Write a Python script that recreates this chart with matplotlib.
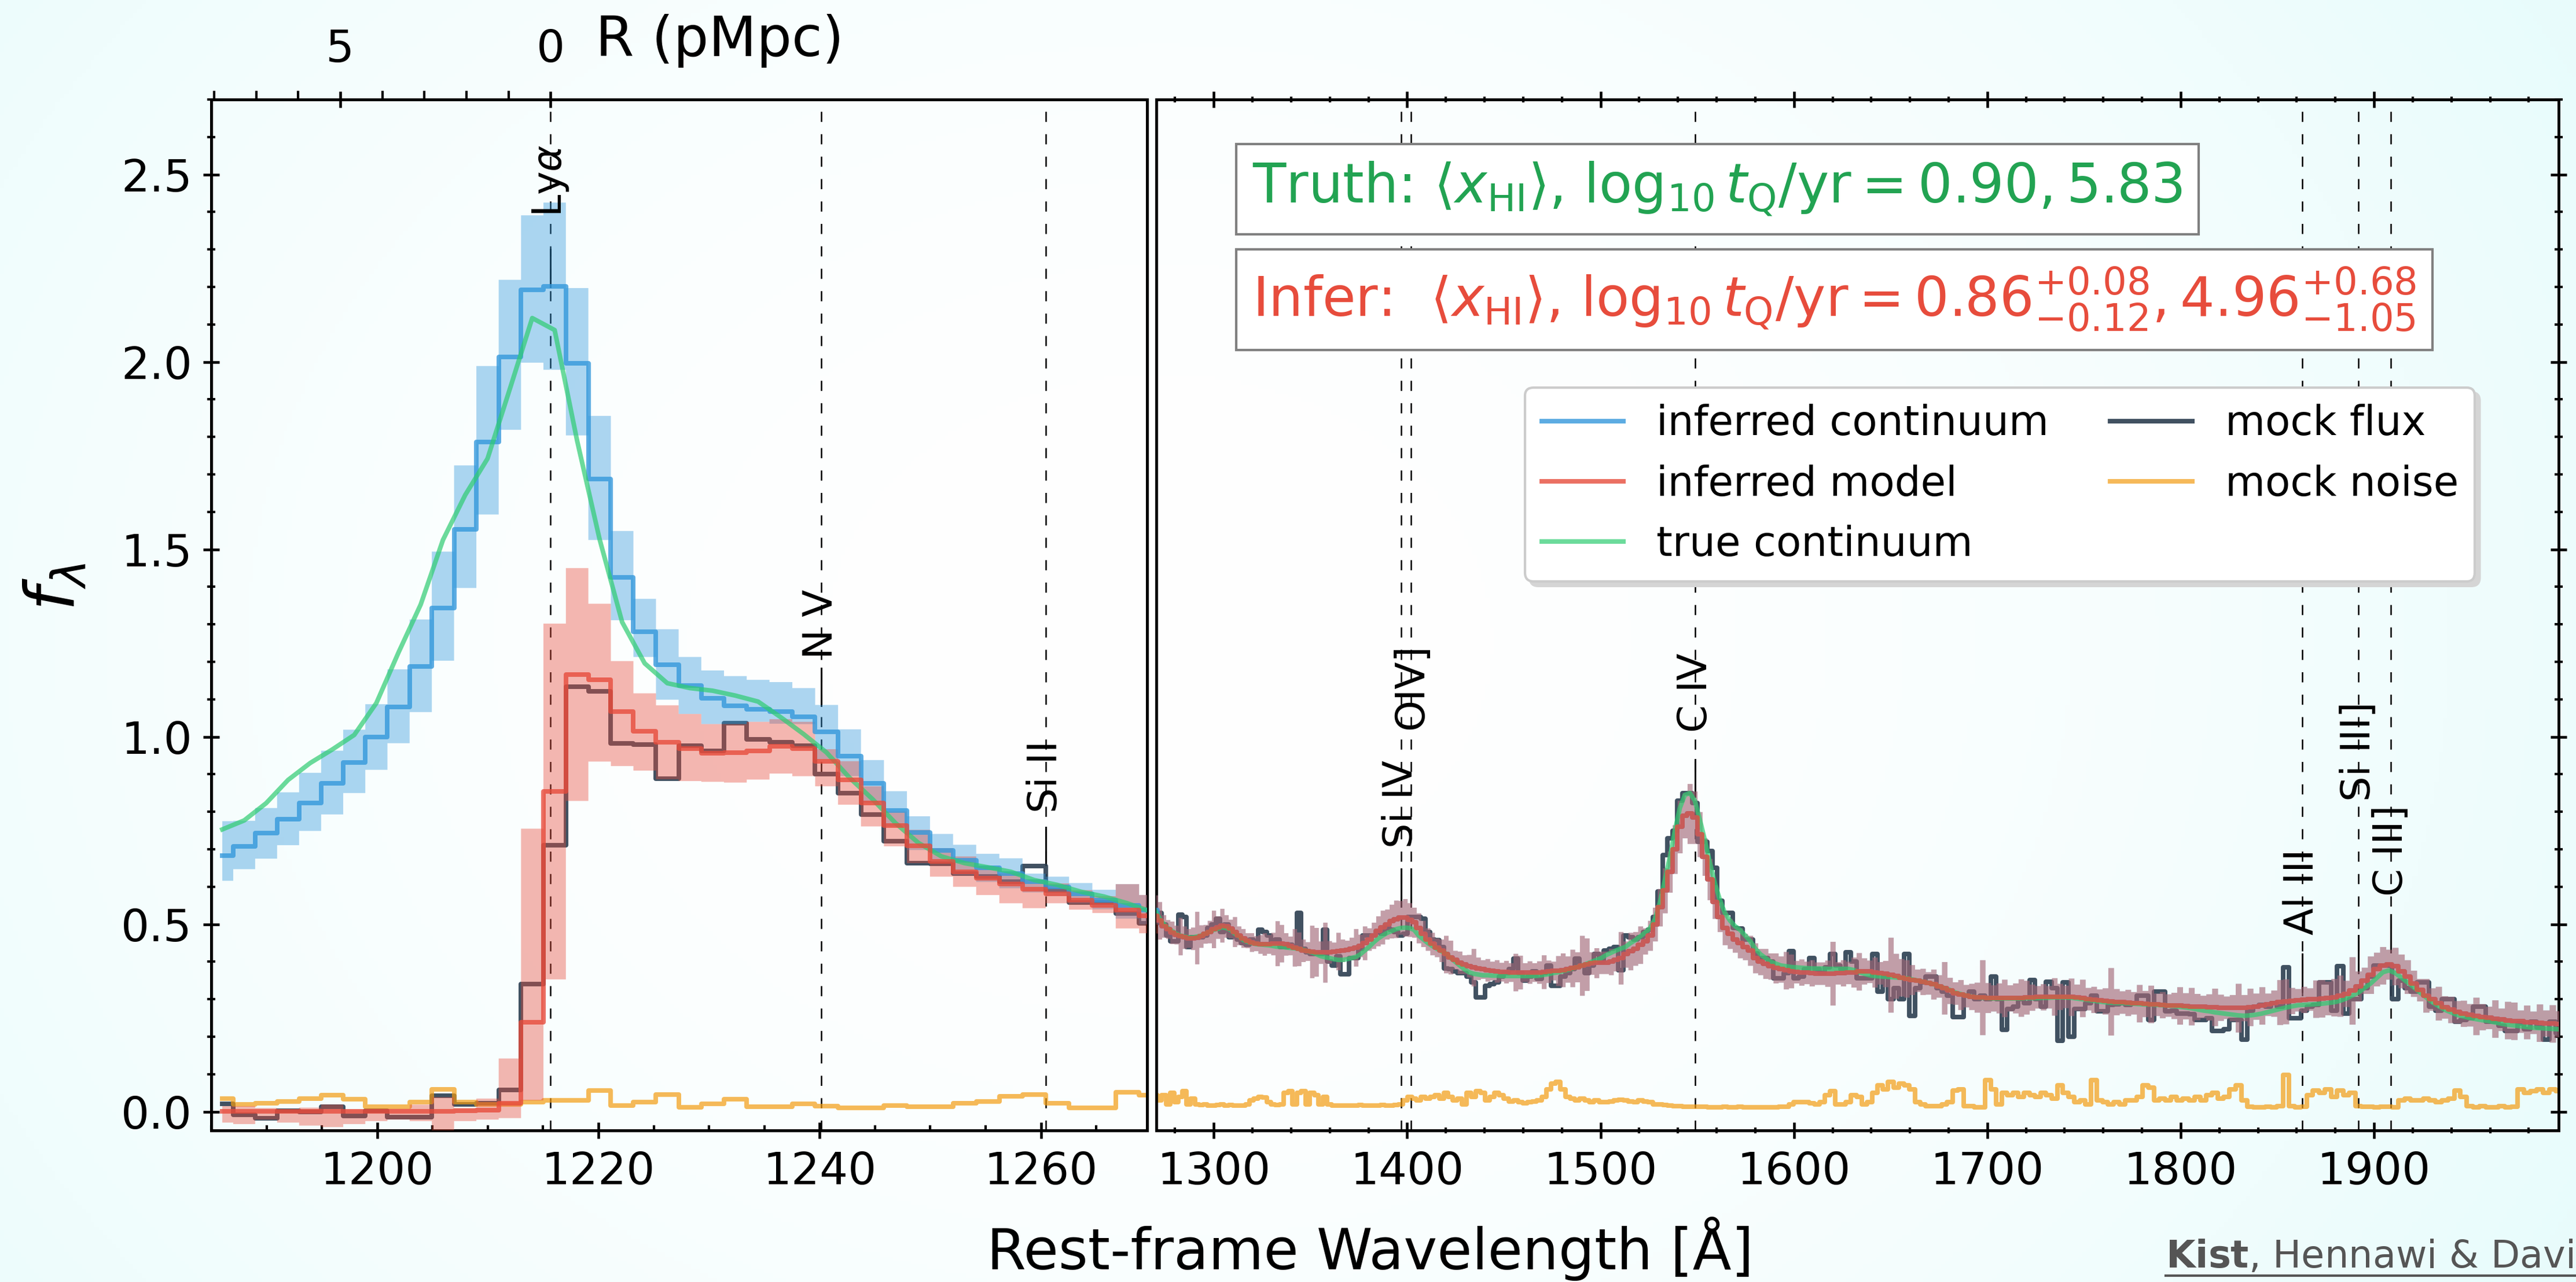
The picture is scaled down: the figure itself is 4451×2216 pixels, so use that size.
import numpy as np
import matplotlib.pyplot as plt
from matplotlib.lines import Line2D
from matplotlib.ticker import MultipleLocator, FixedLocator

# ---------------- data ----------------
lam_first = 1186.0       # centre of first pixel [A]
dv_pix = 500.0           # pixel width [km/s]
c_kms = 299792.458
lya = 1215.67
ang_per_pmpc = 3.8       # top axis conversion near Ly-alpha

# blue side of the spectrum (1186 - 1270 A)
flux_lya = [0.021, -0.009, -0.017, 0.003, -0.001, 0.013, -0.011, 0.003, -0.014, -0.014,
            0.043, 0.020, 0.023, 0.058, 0.341, 0.711, 1.134, 1.121, 0.983, 0.980,
            0.888, 0.976, 0.962, 1.036, 0.994, 0.985, 0.976, 0.900, 0.849, 0.792,
            0.721, 0.663, 0.661, 0.636, 0.627, 0.614, 0.656, 0.591, 0.558, 0.558,
            0.529, 0.502]
noise_lya = [0.035, 0.020, 0.023, 0.028, 0.035, 0.044, 0.033, 0.014, 0.014, 0.025,
             0.060, 0.025, 0.019, 0.020, 0.026, 0.030, 0.030, 0.057, 0.017, 0.025,
             0.046, 0.012, 0.021, 0.033, 0.013, 0.013, 0.021, 0.015, 0.010, 0.010,
             0.017, 0.013, 0.013, 0.023, 0.028, 0.041, 0.046, 0.023, 0.010, 0.010,
             0.052, 0.044]
true_lya = [0.753, 0.777, 0.823, 0.885, 0.930, 0.966, 1.005, 1.090, 1.225, 1.353,
            1.525, 1.645, 1.742, 1.928, 2.117, 2.085, 1.790, 1.527, 1.306, 1.196,
            1.143, 1.130, 1.123, 1.110, 1.094, 1.052, 1.007, 0.958, 0.891, 0.834,
            0.770, 0.717, 0.681, 0.663, 0.652, 0.640, 0.618, 0.605, 0.587, 0.574,
            0.556, 0.534]
cont_lya = [0.683, 0.708, 0.743, 0.781, 0.824, 0.876, 0.932, 0.999, 1.079, 1.187,
            1.344, 1.554, 1.786, 2.014, 2.193, 2.202, 1.997, 1.688, 1.426, 1.280,
            1.193, 1.137, 1.103, 1.083, 1.074, 1.067, 1.054, 1.013, 0.949, 0.876,
            0.804, 0.745, 0.697, 0.670, 0.650, 0.636, 0.614, 0.600, 0.582, 0.565,
            0.551, 0.538]
cont_hi_lya = [0.775, 0.776, 0.810, 0.852, 0.904, 0.963, 1.019, 1.087, 1.180, 1.313,
               1.494, 1.724, 1.989, 2.219, 2.391, 2.425, 2.197, 1.856, 1.549, 1.368,
               1.287, 1.213, 1.177, 1.162, 1.152, 1.146, 1.130, 1.085, 1.020, 0.938,
               0.855, 0.788, 0.741, 0.712, 0.688, 0.676, 0.635, 0.627, 0.610, 0.592,
               0.607, 0.578]
cont_lo_lya = [0.616, 0.647, 0.675, 0.711, 0.749, 0.793, 0.850, 0.912, 0.983, 1.066,
               1.203, 1.397, 1.593, 1.819, 1.998, 1.979, 1.804, 1.525, 1.311, 1.213,
               1.099, 1.061, 1.034, 1.034, 1.040, 1.035, 1.034, 0.940, 0.895, 0.824,
               0.761, 0.698, 0.665, 0.631, 0.613, 0.596, 0.585, 0.575, 0.556, 0.540,
               0.515, 0.500]
model_lya = [0.001, 0.001, 0.001, 0.001, 0.001, 0.001, 0.001, 0.001, 0.001, 0.001,
             0.001, 0.002, 0.004, 0.023, 0.238, 0.854, 1.166, 1.152, 1.067, 1.015,
             0.985, 0.969, 0.956, 0.958, 0.962, 0.974, 0.969, 0.935, 0.886, 0.824,
             0.763, 0.710, 0.667, 0.640, 0.623, 0.607, 0.593, 0.582, 0.565, 0.551,
             0.538, 0.522]
model_hi_lya = [0.015, 0.015, 0.010, 0.005, 0.011, 0.019, 0.005, 0.008, 0.008, 0.019,
                0.039, 0.010, 0.035, 0.142, 0.755, 1.302, 1.450, 1.355, 1.202, 1.116,
                1.084, 1.061, 1.034, 1.034, 1.040, 1.047, 1.040, 0.967, 0.935, 0.868,
                0.801, 0.752, 0.703, 0.681, 0.654, 0.636, 0.620, 0.609, 0.591, 0.575,
                0.607, 0.578]
model_lo_lya = [-0.029, -0.033, -0.021, -0.029, -0.037, -0.041, -0.033, -0.025, -0.021, -0.025,
                -0.060, -0.025, -0.021, -0.017, 0.030, 0.353, 0.829, 0.934, 0.922, 0.910,
                0.887, 0.882, 0.880, 0.878, 0.886, 0.902, 0.895, 0.868, 0.819, 0.761,
                0.708, 0.663, 0.627, 0.600, 0.578, 0.556, 0.543, 0.556, 0.539, 0.530,
                0.489, 0.476]

# red side of the spectrum (1272 - 1999 A)
flux_red = [0.530, 0.500, 0.470, 0.455, 0.455, 0.525, 0.520, 0.440, 0.465, 0.465,
            0.465, 0.470, 0.490, 0.500, 0.515, 0.480, 0.500, 0.465, 0.470, 0.460,
            0.450, 0.445, 0.460, 0.455, 0.485, 0.480, 0.470, 0.450, 0.460, 0.440,
            0.440, 0.445, 0.440, 0.530, 0.435, 0.425, 0.420, 0.423, 0.420, 0.485,
            0.400, 0.390, 0.415, 0.367, 0.367, 0.410, 0.410, 0.435, 0.470, 0.470,
            0.470, 0.480, 0.475, 0.490, 0.485, 0.480, 0.470, 0.475, 0.520, 0.520,
            0.520, 0.515, 0.480, 0.460, 0.458, 0.440, 0.382, 0.380, 0.375, 0.370,
            0.370, 0.360, 0.345, 0.305, 0.305, 0.336, 0.340, 0.345, 0.360, 0.370,
            0.380, 0.408, 0.370, 0.350, 0.360, 0.375, 0.355, 0.370, 0.390, 0.336,
            0.336, 0.360, 0.370, 0.380, 0.408, 0.390, 0.370, 0.390, 0.420, 0.400,
            0.430, 0.435, 0.440, 0.377, 0.470, 0.465, 0.460, 0.465, 0.480, 0.485,
            0.520, 0.588, 0.685, 0.730, 0.750, 0.829, 0.850, 0.850, 0.824, 0.720,
            0.720, 0.695, 0.650, 0.562, 0.530, 0.530, 0.490, 0.488, 0.459, 0.459,
            0.423, 0.410, 0.410, 0.400, 0.356, 0.356, 0.370, 0.428, 0.356, 0.360,
            0.380, 0.410, 0.380, 0.370, 0.385, 0.420, 0.390, 0.380, 0.425, 0.400,
            0.356, 0.356, 0.356, 0.420, 0.320, 0.360, 0.300, 0.330, 0.300, 0.420,
            0.256, 0.330, 0.345, 0.360, 0.360, 0.330, 0.320, 0.310, 0.253, 0.253,
            0.310, 0.320, 0.300, 0.310, 0.300, 0.360, 0.300, 0.218, 0.274, 0.280,
            0.300, 0.290, 0.351, 0.300, 0.280, 0.346, 0.330, 0.190, 0.345, 0.200,
            0.274, 0.274, 0.290, 0.310, 0.268, 0.268, 0.285, 0.286, 0.290, 0.285,
            0.290, 0.310, 0.310, 0.245, 0.320, 0.320, 0.268, 0.270, 0.262, 0.262,
            0.260, 0.245, 0.245, 0.250, 0.216, 0.216, 0.220, 0.245, 0.245, 0.192,
            0.270, 0.280, 0.285, 0.280, 0.290, 0.280, 0.386, 0.250, 0.250, 0.270,
            0.280, 0.285, 0.345, 0.345, 0.270, 0.389, 0.262, 0.300, 0.300, 0.330,
            0.360, 0.390, 0.390, 0.390, 0.300, 0.350, 0.330, 0.320, 0.345, 0.345,
            0.280, 0.270, 0.300, 0.300, 0.240, 0.245, 0.250, 0.280, 0.280, 0.240,
            0.240, 0.230, 0.216, 0.216, 0.235, 0.220, 0.240, 0.225, 0.192, 0.240, 0.210, 0.235]
noise_red = [0.030, 0.045, 0.020, 0.050, 0.025, 0.040, 0.055, 0.020, 0.035, 0.020,
             0.018, 0.020, 0.017, 0.016, 0.018, 0.020, 0.017, 0.018, 0.016, 0.017,
             0.017, 0.020, 0.030, 0.035, 0.040, 0.038, 0.025, 0.020, 0.018, 0.020,
             0.050, 0.055, 0.020, 0.050, 0.055, 0.020, 0.050, 0.045, 0.020, 0.040,
             0.020, 0.017, 0.016, 0.016, 0.017, 0.016, 0.017, 0.018, 0.016, 0.017,
             0.017, 0.016, 0.018, 0.017, 0.016, 0.018, 0.020, 0.030, 0.040, 0.035,
             0.030, 0.040, 0.035, 0.040, 0.045, 0.035, 0.050, 0.040, 0.030, 0.035,
             0.020, 0.050, 0.040, 0.055, 0.050, 0.030, 0.040, 0.050, 0.045, 0.035,
             0.028, 0.030, 0.025, 0.022, 0.025, 0.028, 0.030, 0.040, 0.060, 0.075,
             0.080, 0.060, 0.040, 0.035, 0.030, 0.035, 0.030, 0.025, 0.030, 0.025,
             0.025, 0.028, 0.030, 0.032, 0.030, 0.028, 0.025, 0.030, 0.028, 0.025,
             0.020, 0.020, 0.018, 0.016, 0.015, 0.015, 0.014, 0.014, 0.013, 0.013,
             0.013, 0.012, 0.012, 0.012, 0.013, 0.012, 0.012, 0.013, 0.012, 0.012,
             0.012, 0.012, 0.012, 0.012, 0.012, 0.013, 0.014, 0.020, 0.025, 0.025,
             0.025, 0.022, 0.020, 0.025, 0.045, 0.055, 0.020, 0.020, 0.025, 0.045,
             0.040, 0.020, 0.025, 0.050, 0.070, 0.060, 0.080, 0.065, 0.075, 0.070,
             0.060, 0.025, 0.020, 0.015, 0.015, 0.015, 0.020, 0.025, 0.057, 0.060,
             0.015, 0.015, 0.012, 0.012, 0.085, 0.060, 0.020, 0.050, 0.045, 0.050,
             0.040, 0.050, 0.045, 0.040, 0.050, 0.045, 0.035, 0.070, 0.050, 0.040,
             0.025, 0.030, 0.020, 0.085, 0.030, 0.025, 0.020, 0.025, 0.020, 0.030,
             0.030, 0.040, 0.070, 0.065, 0.030, 0.035, 0.030, 0.040, 0.030, 0.035,
             0.030, 0.040, 0.030, 0.045, 0.050, 0.035, 0.040, 0.060, 0.070, 0.030,
             0.013, 0.012, 0.012, 0.013, 0.012, 0.015, 0.098, 0.015, 0.012, 0.014,
             0.045, 0.057, 0.050, 0.060, 0.040, 0.057, 0.045, 0.050, 0.015, 0.013,
             0.013, 0.012, 0.014, 0.013, 0.012, 0.030, 0.035, 0.030, 0.030, 0.035,
             0.030, 0.025, 0.030, 0.035, 0.057, 0.040, 0.015, 0.012, 0.015, 0.012,
             0.012, 0.015, 0.012, 0.013, 0.060, 0.050, 0.055, 0.060, 0.050, 0.060, 0.055, 0.050]
true_red = [0.515, 0.500, 0.490, 0.482, 0.475, 0.470, 0.467, 0.465, 0.465, 0.467,
            0.470, 0.475, 0.480, 0.485, 0.488, 0.492, 0.490, 0.485, 0.475, 0.468,
            0.458, 0.453, 0.450, 0.447, 0.446, 0.445, 0.444, 0.442, 0.440, 0.440,
            0.438, 0.437, 0.436, 0.434, 0.432, 0.428, 0.425, 0.420, 0.415, 0.412,
            0.410, 0.407, 0.405, 0.405, 0.407, 0.410, 0.413, 0.420, 0.430, 0.440,
            0.452, 0.462, 0.470, 0.477, 0.482, 0.487, 0.490, 0.491, 0.490, 0.485,
            0.470, 0.460, 0.450, 0.442, 0.435, 0.428, 0.422, 0.410, 0.400, 0.390,
            0.380, 0.372, 0.368, 0.366, 0.364, 0.364, 0.363, 0.363, 0.362, 0.362,
            0.362, 0.362, 0.362, 0.362, 0.362, 0.362, 0.363, 0.365, 0.367, 0.370,
            0.372, 0.375, 0.378, 0.382, 0.386, 0.390, 0.395, 0.400, 0.405, 0.410,
            0.418, 0.424, 0.430, 0.435, 0.440, 0.450, 0.458, 0.468, 0.478, 0.490,
            0.515, 0.560, 0.620, 0.680, 0.750, 0.810, 0.845, 0.850, 0.830, 0.780,
            0.725, 0.665, 0.610, 0.565, 0.530, 0.510, 0.495, 0.485, 0.470, 0.455,
            0.435, 0.420, 0.410, 0.400, 0.395, 0.390, 0.388, 0.386, 0.385, 0.384,
            0.383, 0.382, 0.382, 0.382, 0.381, 0.381, 0.381, 0.381, 0.381, 0.378,
            0.372, 0.368, 0.364, 0.362, 0.361, 0.360, 0.359, 0.358, 0.357, 0.356,
            0.353, 0.350, 0.347, 0.344, 0.340, 0.335, 0.330, 0.325, 0.318, 0.314,
            0.310, 0.307, 0.305, 0.304, 0.303, 0.302, 0.302, 0.302, 0.302, 0.302,
            0.302, 0.303, 0.303, 0.303, 0.304, 0.304, 0.305, 0.305, 0.305, 0.304,
            0.302, 0.300, 0.298, 0.296, 0.294, 0.292, 0.291, 0.290, 0.290, 0.289,
            0.288, 0.287, 0.286, 0.286, 0.285, 0.284, 0.283, 0.282, 0.280, 0.278,
            0.276, 0.273, 0.270, 0.268, 0.265, 0.263, 0.261, 0.259, 0.257, 0.256,
            0.257, 0.259, 0.262, 0.266, 0.270, 0.274, 0.278, 0.281, 0.284, 0.285,
            0.286, 0.287, 0.288, 0.290, 0.292, 0.296, 0.302, 0.310, 0.318, 0.330,
            0.342, 0.357, 0.372, 0.377, 0.370, 0.358, 0.345, 0.332, 0.318, 0.305,
            0.292, 0.282, 0.272, 0.265, 0.258, 0.254, 0.250, 0.247, 0.244, 0.242,
            0.238, 0.235, 0.232, 0.230, 0.228, 0.226, 0.224, 0.223, 0.222, 0.221, 0.220, 0.219]
# inferred continuum; redward of 1270 A the inferred model is identical to it
cont_red = [0.510, 0.495, 0.487, 0.478, 0.472, 0.468, 0.465, 0.463, 0.462, 0.464,
            0.468, 0.474, 0.480, 0.487, 0.492, 0.497, 0.495, 0.488, 0.480, 0.470,
            0.463, 0.457, 0.452, 0.449, 0.447, 0.447, 0.447, 0.448, 0.449, 0.449,
            0.447, 0.443, 0.438, 0.434, 0.430, 0.428, 0.427, 0.426, 0.425, 0.425,
            0.426, 0.427, 0.428, 0.430, 0.432, 0.435, 0.438, 0.443, 0.450, 0.460,
            0.470, 0.482, 0.492, 0.500, 0.508, 0.514, 0.518, 0.518, 0.512, 0.505,
            0.490, 0.475, 0.460, 0.448, 0.438, 0.430, 0.420, 0.412, 0.405, 0.398,
            0.393, 0.389, 0.385, 0.382, 0.380, 0.378, 0.376, 0.375, 0.373, 0.373,
            0.372, 0.372, 0.372, 0.372, 0.372, 0.372, 0.372, 0.373, 0.374, 0.376,
            0.376, 0.378, 0.380, 0.383, 0.386, 0.390, 0.393, 0.396, 0.397, 0.398,
            0.398, 0.400, 0.405, 0.410, 0.420, 0.428, 0.435, 0.445, 0.455, 0.470,
            0.500, 0.545, 0.590, 0.640, 0.700, 0.760, 0.790, 0.795, 0.785, 0.740,
            0.680, 0.620, 0.560, 0.520, 0.490, 0.475, 0.460, 0.450, 0.440, 0.430,
            0.410, 0.400, 0.395, 0.388, 0.383, 0.380, 0.377, 0.375, 0.373, 0.372,
            0.371, 0.370, 0.369, 0.369, 0.369, 0.369, 0.370, 0.370, 0.371, 0.372,
            0.374, 0.375, 0.374, 0.372, 0.370, 0.368, 0.365, 0.362, 0.358, 0.355,
            0.352, 0.350, 0.347, 0.343, 0.340, 0.335, 0.330, 0.323, 0.316, 0.312,
            0.309, 0.307, 0.305, 0.305, 0.304, 0.303, 0.303, 0.303, 0.303, 0.303,
            0.304, 0.305, 0.305, 0.306, 0.306, 0.306, 0.307, 0.307, 0.307, 0.306,
            0.305, 0.303, 0.301, 0.299, 0.297, 0.295, 0.294, 0.293, 0.292, 0.291,
            0.290, 0.289, 0.288, 0.287, 0.286, 0.285, 0.284, 0.283, 0.283, 0.282,
            0.281, 0.280, 0.280, 0.279, 0.279, 0.278, 0.278, 0.277, 0.277, 0.277,
            0.279, 0.281, 0.283, 0.286, 0.289, 0.292, 0.294, 0.296, 0.298, 0.299,
            0.300, 0.301, 0.302, 0.303, 0.305, 0.309, 0.315, 0.323, 0.335, 0.350,
            0.365, 0.380, 0.390, 0.393, 0.388, 0.375, 0.360, 0.342, 0.325, 0.310,
            0.300, 0.289, 0.279, 0.272, 0.266, 0.262, 0.258, 0.255, 0.253, 0.251,
            0.248, 0.246, 0.244, 0.242, 0.241, 0.239, 0.238, 0.237, 0.236, 0.235, 0.234, 0.233]
# half-width of the posterior bands on the red side
band_red = [0.050, 0.030, 0.025, 0.030, 0.025, 0.050, 0.030, 0.025, 0.030, 0.070,
            0.030, 0.025, 0.030, 0.050, 0.030, 0.045, 0.030, 0.025, 0.040, 0.025,
            0.025, 0.020, 0.025, 0.020, 0.025, 0.030, 0.025, 0.030, 0.060, 0.050,
            0.030, 0.025, 0.050, 0.045, 0.030, 0.025, 0.070, 0.065, 0.030, 0.080,
            0.030, 0.025, 0.050, 0.030, 0.025, 0.030, 0.050, 0.030, 0.045, 0.030,
            0.035, 0.040, 0.045, 0.040, 0.045, 0.050, 0.045, 0.050, 0.045, 0.040,
            0.040, 0.035, 0.030, 0.030, 0.025, 0.030, 0.050, 0.045, 0.025, 0.030,
            0.025, 0.030, 0.050, 0.030, 0.025, 0.030, 0.025, 0.030, 0.025, 0.030,
            0.025, 0.050, 0.045, 0.025, 0.030, 0.025, 0.030, 0.045, 0.030, 0.025,
            0.040, 0.045, 0.035, 0.050, 0.040, 0.080, 0.070, 0.030, 0.040, 0.030,
            0.030, 0.035, 0.030, 0.070, 0.035, 0.050, 0.045, 0.050, 0.035, 0.040,
            0.045, 0.050, 0.060, 0.055, 0.065, 0.070, 0.060, 0.080, 0.070, 0.060,
            0.050, 0.055, 0.045, 0.040, 0.045, 0.040, 0.035, 0.040, 0.035, 0.040,
            0.040, 0.035, 0.040, 0.035, 0.040, 0.035, 0.050, 0.045, 0.030, 0.035,
            0.030, 0.035, 0.030, 0.030, 0.035, 0.085, 0.030, 0.035, 0.030, 0.040,
            0.050, 0.035, 0.030, 0.040, 0.030, 0.035, 0.100, 0.060, 0.050, 0.050,
            0.040, 0.030, 0.035, 0.030, 0.040, 0.030, 0.070, 0.035, 0.030, 0.040,
            0.030, 0.035, 0.040, 0.100, 0.040, 0.035, 0.040, 0.050, 0.035, 0.040,
            0.050, 0.045, 0.035, 0.030, 0.035, 0.030, 0.050, 0.035, 0.030, 0.050,
            0.035, 0.050, 0.030, 0.035, 0.030, 0.035, 0.090, 0.035, 0.030, 0.035,
            0.030, 0.050, 0.035, 0.050, 0.030, 0.035, 0.030, 0.035, 0.050, 0.035,
            0.050, 0.035, 0.030, 0.035, 0.050, 0.035, 0.030, 0.035, 0.065, 0.035,
            0.050, 0.035, 0.050, 0.030, 0.035, 0.060, 0.060, 0.035, 0.030, 0.035,
            0.030, 0.050, 0.050, 0.045, 0.050, 0.055, 0.035, 0.090, 0.040, 0.035,
            0.050, 0.045, 0.050, 0.040, 0.050, 0.045, 0.045, 0.035, 0.030, 0.045,
            0.030, 0.045, 0.030, 0.035, 0.030, 0.035, 0.030, 0.050, 0.035, 0.030,
            0.050, 0.030, 0.050, 0.050, 0.030, 0.045, 0.030, 0.050, 0.035, 0.050, 0.035, 0.030]

# emission lines: wavelength, name, spectrum level under the tick, label height
line_wave = [1215.67, 1240.14, 1260.42, 1396.76, 1402.06, 1549.06, 1862.8, 1892.03, 1908.73]
line_name = [r'Ly$\alpha$', 'N V', 'Si II', 'Si IV', 'OIV]', 'C IV', 'Al III', 'Si III]', 'C III]']
line_base = [2.20, 1.083, 0.658, 0.547, 0.547, 0.84, 0.32, 0.37, 0.425]
line_text_y = [2.386, 1.208, 0.797, 0.703, 1.019, 1.011, 0.472, 0.828, 0.575]

truth_txt = r'Truth: $\langle x_{\rm HI}\rangle$, $\log_{10}t_{\rm Q}/{\rm yr} = 0.90, 5.83$'
infer_txt = (r'Infer:  $\langle x_{\rm HI}\rangle$, $\log_{10}t_{\rm Q}/{\rm yr} = '
             r'0.86^{+0.08}_{-0.12}, 4.96^{+0.68}_{-1.05}$')

# ---------------- assemble ----------------
flux = np.array(flux_lya + flux_red)
noise = np.array(noise_lya + noise_red)
cont_true = np.array(true_lya + true_red)
cont_inf = np.array(cont_lya + cont_red)
model = np.array(model_lya + cont_red)
band = np.array(band_red)
cont_lo = np.concatenate([cont_lo_lya, np.array(cont_red) - band])
cont_hi = np.concatenate([cont_hi_lya, np.array(cont_red) + band])
model_lo = np.concatenate([model_lo_lya, np.array(cont_red) - band])
model_hi = np.concatenate([model_hi_lya, np.array(cont_red) + band])
wave = lam_first * np.exp(np.arange(len(flux)) * dv_pix / c_kms)

c_blue, c_red, c_green = '#3498db', '#e74c3c', '#2ecc71'
c_navy, c_orange = '#2c3e50', '#f39c12'
lw = 1.9

fig = plt.figure(figsize=(4451 / 300, 2216 / 300), dpi=300)

# soft cyan vignette behind everything
bg = fig.add_axes([0, 0, 1, 1], zorder=-10)
yy, xx = np.mgrid[0:1:300j, 0:1:600j]
rr = np.clip(np.sqrt(((xx - 0.45) / 0.62) ** 2 + ((yy - 0.5) / 1.0) ** 2), 0, 1) ** 2
edge = np.array([0.91, 0.988, 0.988])
img = (1 - rr)[..., None] * np.ones(3) + rr[..., None] * edge
bg.imshow(img, extent=[0, 1, 0, 1], aspect='auto', origin='lower')
bg.axis('off')

ax_l = fig.add_axes([0.0820, 0.1182, 0.3633, 0.8042])
ax_r = fig.add_axes([0.4489, 0.1182, 0.5444, 0.8042])


def draw_spectrum(ax):
    ax.step(wave, flux, where='mid', color=c_navy, lw=lw, alpha=0.9, zorder=2)
    ax.step(wave, noise, where='mid', color=c_orange, lw=lw, alpha=0.7, zorder=2)
    ax.fill_between(wave, cont_lo, cont_hi, step='mid', color=c_blue, alpha=0.4, lw=0, zorder=3)
    ax.fill_between(wave, model_lo, model_hi, step='mid', color=c_red, alpha=0.4, lw=0, zorder=3)
    ax.step(wave, cont_inf, where='mid', color=c_blue, lw=lw, alpha=0.8, zorder=4)
    ax.plot(wave, cont_true, color=c_green, lw=lw, alpha=0.7, zorder=5)
    ax.step(wave, model, where='mid', color=c_red, lw=lw, alpha=0.8, zorder=6)


for ax in (ax_l, ax_r):
    draw_spectrum(ax)
    ax.patch.set_alpha(0)
    ax.set_ylim(-0.05, 2.7)
    ax.yaxis.set_major_locator(MultipleLocator(0.5))
    ax.yaxis.set_minor_locator(MultipleLocator(0.1))
    ax.tick_params(which='major', direction='inout', length=6.5, width=1.1, labelsize=18.5)
    ax.tick_params(which='minor', direction='inout', length=3.2, width=1.0)
    ax.tick_params(axis='x', which='minor', direction='in', length=2.2)
    ax.tick_params(axis='x', which='major', pad=5.2)
    ax.tick_params(axis='y', which='major', pad=4.7)
    for s in ax.spines.values():
        s.set_linewidth(1.2)

ax_l.set_xlim(1185, 1269.6)
ax_l.xaxis.set_major_locator(MultipleLocator(20))
ax_l.xaxis.set_minor_locator(MultipleLocator(5))
ax_l.tick_params(which='both', top=False, right=False)

ax_r.set_xlim(1270.3, 1995.5)
ax_r.xaxis.set_major_locator(MultipleLocator(100))
ax_r.xaxis.set_minor_locator(MultipleLocator(20))
ax_r.tick_params(which='both', top=True, labeltop=False, left=False, labelleft=False,
                 right=True, labelright=False)
ax_r.tick_params(axis='x', which='minor', direction='inout', length=2.5)

# emission line markers
for lam, name, y0, yt in zip(line_wave, line_name, line_base, line_text_y):
    ax = ax_l if lam < 1270 else ax_r
    ax.axvline(lam, color='k', lw=0.6, ls=(0, (7, 8.5)), zorder=1)
    ax.plot([lam, lam], [y0, y0 + 0.1], color='k', lw=0.7, zorder=1)
    ax.text(lam, yt, name, rotation=90, ha='center', va='bottom', fontsize=16.5)

# top axis: proper distance from the quasar
sec = ax_l.secondary_xaxis('top', functions=(lambda x: (lya - x) / ang_per_pmpc,
                                             lambda r: lya - r * ang_per_pmpc))
sec.xaxis.set_major_locator(FixedLocator([0, 5]))
sec.xaxis.set_minor_locator(FixedLocator([1, 2, 3, 4, 6, 7, 8]))
sec.tick_params(which='major', direction='inout', length=6.5, width=1.1, labelsize=18.5, pad=8.5)
sec.tick_params(which='minor', direction='out', length=3.6, width=1.0)
sec.spines['top'].set_linewidth(1.2)
ax_l.text(0.4106, 1.042, 'R (pMpc)', transform=ax_l.transAxes, fontsize=23,
          ha='left', va='baseline')

ax_l.set_ylabel(r'$f_\lambda$', fontsize=28)
ax_l.yaxis.set_label_coords(-0.13, 0.527)
fig.text(0.532, 0.0099, 'Rest-frame Wavelength [Å]', fontsize=23.5, ha='center', va='baseline')

box = dict(boxstyle='square,pad=0.3', fc='white', ec='gray', lw=1.0)
ax_r.text(0.0685, 0.913, truth_txt, transform=ax_r.transAxes, fontsize=22.5, color='#22a352',
          ha='left', va='center', bbox=box, zorder=10)
ax_r.text(0.0685, 0.806, infer_txt, transform=ax_r.transAxes, fontsize=22.5, color=c_red,
          ha='left', va='center', bbox=box, zorder=10)

handles = [Line2D([], [], color=c_blue, alpha=0.8, lw=lw),
           Line2D([], [], color=c_red, alpha=0.8, lw=lw),
           Line2D([], [], color=c_green, alpha=0.7, lw=lw),
           Line2D([], [], color=c_navy, alpha=0.9, lw=lw),
           Line2D([], [], color=c_orange, alpha=0.7, lw=lw)]
labels = ['inferred continuum', 'inferred model', 'true continuum', 'mock flux', 'mock noise']
leg = ax_r.legend(handles, labels, ncol=2, loc='upper left', bbox_to_anchor=(0.263, 0.7205),
                  borderaxespad=0, fontsize=17, fancybox=True, framealpha=1, columnspacing=1.5,
                  edgecolor='#cccccc', shadow={'color': '#d5d5d5', 'alpha': 1})
leg.set_zorder(10)

fig.text(0.8407, 0.0113, r'$\mathbf{Kist}$, Hennawi & Davies', fontsize=15.7, color='#555555',
         ha='left', va='baseline')
fig.add_artist(Line2D([0.8407, 1.0], [0.005, 0.005], color='#555555', lw=1.0))

fig.savefig('out.png', dpi=300)
